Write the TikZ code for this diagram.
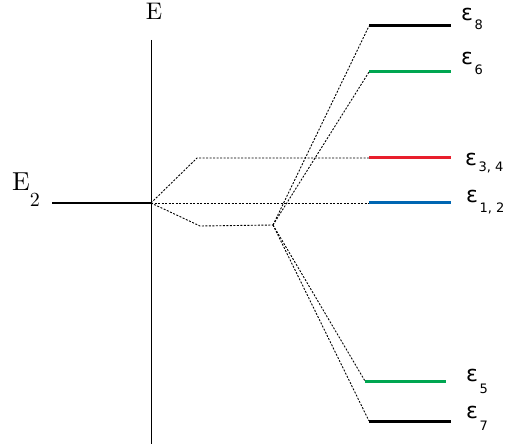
\documentclass[tikz,border=0pt]{standalone}
\usepackage{fontspec}
\newfontfamily\epsfont{DejaVu Sans}
\newfontfamily\lmten{lmroman10-regular}[Extension=.otf]
\definecolor{lvgreen}{RGB}{0,166,81}
\definecolor{lvred}{RGB}{232,30,44}
\definecolor{lvblue}{RGB}{0,102,178}
\newcommand{\epslab}[2]{ε\hspace{1.5pt}\raisebox{-#2pt}{\fontsize{13}{13}\selectfont #1}}
\begin{document}
\begin{tikzpicture}[x=1pt,y=-1pt,
  lvl/.style={line width=3pt},
  dots/.style={line width=0.9pt, dash pattern=on 2pt off 1.5pt},
  eps/.style={anchor=base west, inner sep=0pt, font=\epsfont\fontsize{22}{22}\selectfont},
  rom/.style={inner sep=0pt, font=\lmten\fontsize{24}{24}\selectfont}]
\useasboundingbox (0,0) rectangle (507,444);
% axis
\draw[line width=0.8pt] (151,40) coordinate (axtop) -- (151,444) coordinate (axbot);
\node[rom, anchor=base] (E) at (154,19.5) {E};
\node[rom, anchor=base west, font=\lmten\fontsize{26}{26}\selectfont] (E2) at (12,190) {E\raisebox{-17pt}{\fontsize{20}{20}\selectfont 2}};
% E2 level
\draw[line width=2.6pt] (52,203) coordinate (e2a) -- (151,203) coordinate (o);
% right levels
\draw[lvl] (369,26) coordinate (l8) -- (451,26) coordinate (l8b);
\draw[lvl, lvgreen] (369,72) coordinate (l6) -- (451,72) coordinate (l6b);
\draw[lvl, lvred] (369,158) coordinate (l34) -- (451,158) coordinate (l34b);
\draw[lvl, lvblue] (369,203) coordinate (l12) -- (451,203) coordinate (l12b);
\draw[lvl, lvgreen] (365,381) coordinate (l5) -- (446,381) coordinate (l5b);
\draw[lvl] (369,421) coordinate (l7) -- (451,421) coordinate (l7b);
% dotted connectors
\coordinate (u) at (197,158);
\coordinate (d) at (200,226);
\coordinate (j) at (273,225);
\draw[dots] (o) -- (u) -- (l34);
\draw[dots] (o) -- (l12);
\draw[dots] (o) -- (d) -- (j);
\draw[dots] (j) -- (l8);
\draw[dots] (j) -- (l6);
\draw[dots] (j) -- (l5);
\draw[dots] (j) -- (l7);
% labels
\node[eps] (t8) at (461,21) {\epslab{8}{9}};
\node[eps] (t6) at (461,65) {\epslab{6}{10}};
\node[eps] (t34) at (465,166) {\epslab{3, 4}{5.5}};
\node[eps] (t12) at (466,202) {\epslab{1, 2}{10}};
\node[eps] (t5) at (466,381) {\epslab{5}{12}};
\node[eps] (t7) at (466,418) {\epslab{7}{12}};
\end{tikzpicture}
\end{document}
